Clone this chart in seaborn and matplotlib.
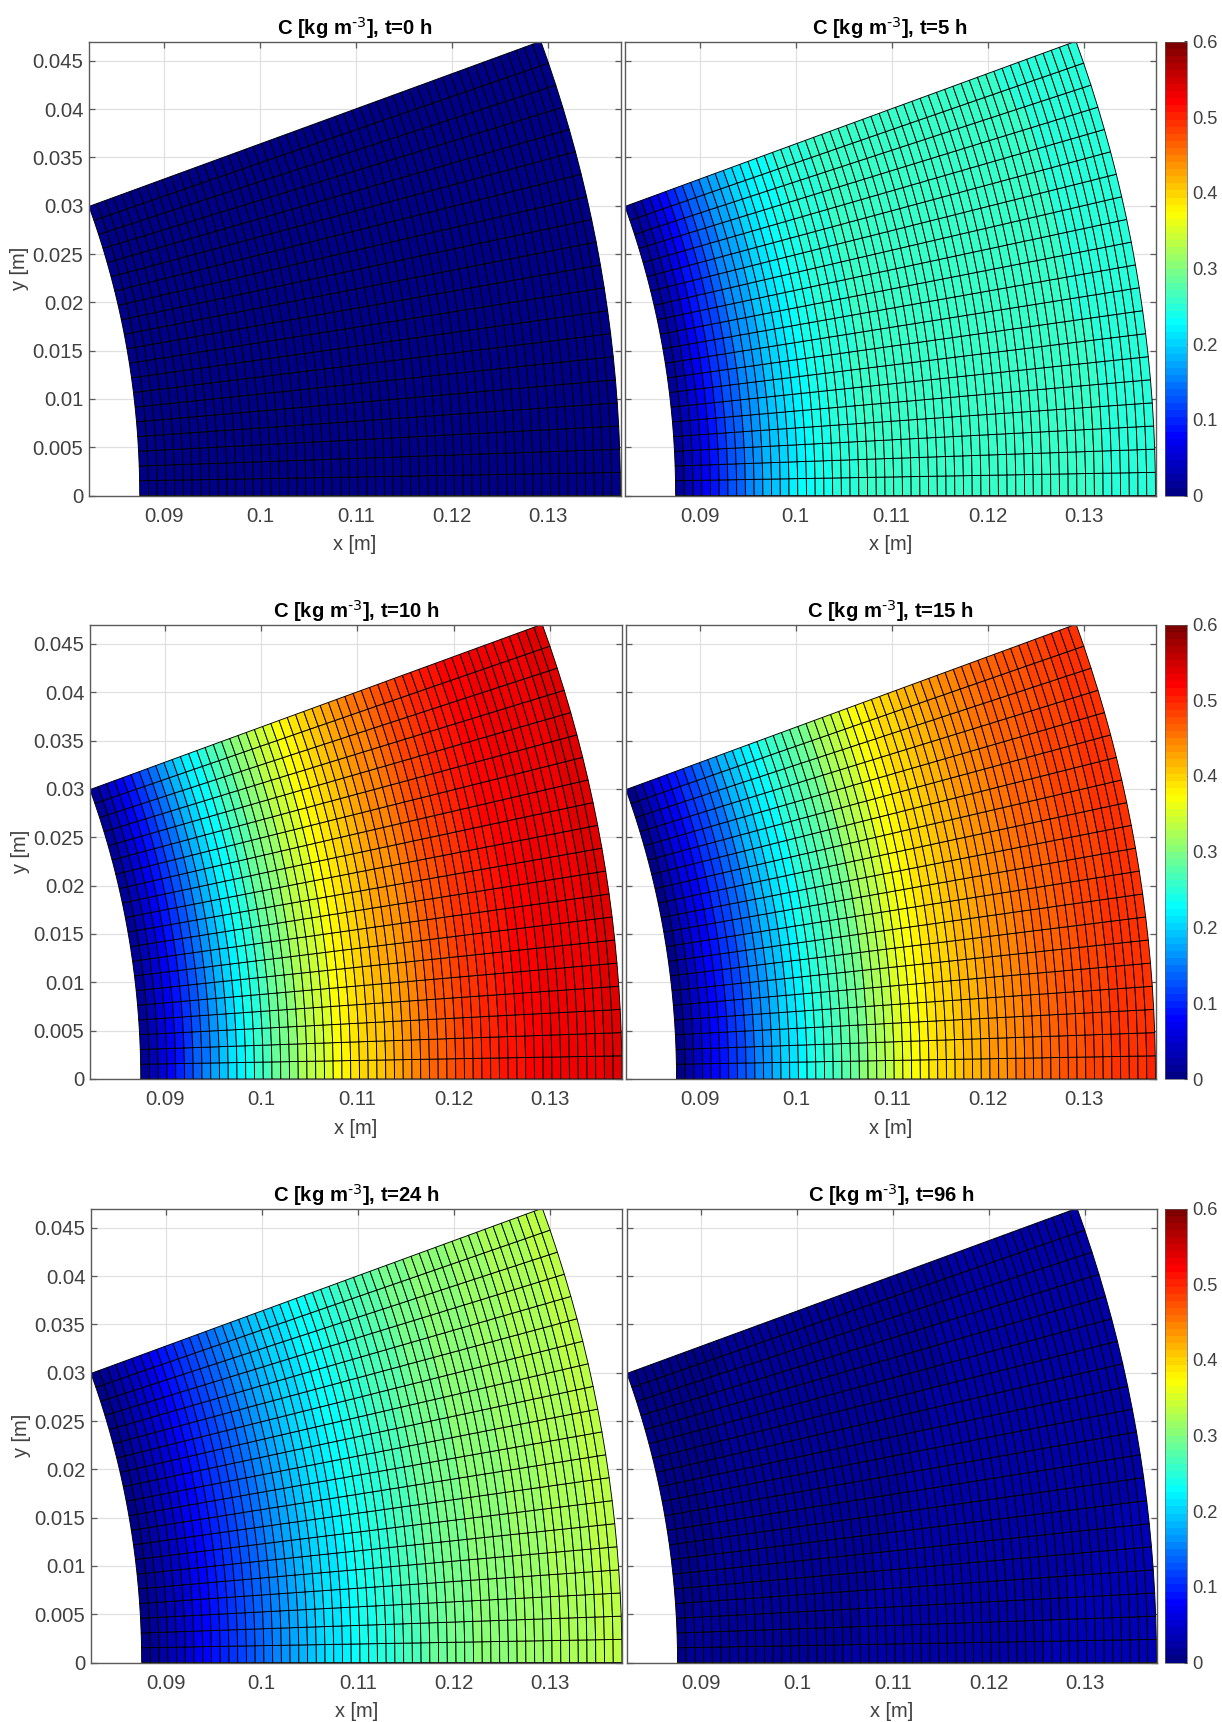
import numpy as np
import matplotlib
matplotlib.use("Agg")
import matplotlib.pyplot as plt
from matplotlib.colors import ListedColormap
import seaborn as sns

TIMES = [0, 5, 10, 15, 24, 96]

# concentration per radial cell: angular row at y=0 and row at the top edge
C_BOTTOM = {
    0: [0.0] * 55,
    5: [.012, .03, .05, .07, .09, .108, .125, .14, .155, .168, .18, .192, .205, .216, .225, .232, .238, .243, .247,
        .25, .252, .254, .256, .258, .259, .26, .261, .262, .262, .262, .262, .262, .262, .262, .262, .262, .261,
        .261, .26, .26, .259, .258, .258, .257, .256, .256, .255, .254, .254, .253, .252, .252, .251, .25, .25],
    10: [.012, .033, .054, .075, .094, .113, .132, .15, .169, .188, .207, .222, .238, .254, .27, .285, .298, .309,
         .32, .331, .343, .355, .367, .376, .385, .394, .403, .412, .421, .43, .438, .446, .454, .461, .468, .475,
         .481, .487, .492, .497, .502, .507, .511, .515, .519, .522, .525, .527, .529, .531, .532, .533, .534, .535,
         .535],
    15: [.008, .027, .045, .062, .077, .092, .107, .122, .137, .152, .168, .183, .198, .212, .225, .236, .247, .258,
         .269, .28, .29, .3, .312, .324, .336, .348, .358, .369, .379, .387, .394, .401, .408, .415, .421, .427,
         .433, .439, .445, .45, .454, .458, .462, .466, .469, .473, .476, .479, .482, .485, .488, .49, .493, .495,
         .497],
    24: [.004, .012, .021, .031, .042, .054, .067, .079, .089, .099, .109, .119, .129, .139, .149, .158, .167, .175,
         .183, .191, .199, .207, .215, .222, .229, .235, .241, .247, .253, .259, .265, .27, .276, .282, .287, .292,
         .296, .299, .301, .303, .305, .307, .309, .311, .313, .315, .317, .319, .321, .323, .325, .327, .329, .331,
         .333],
    96: [.009, .01, .01, .011, .011, .012, .012, .013, .013, .014, .014, .015, .015, .016, .016, .017, .017, .018,
         .018, .019, .019, .02, .02, .021, .021, .022, .022, .022, .023, .023, .024, .024, .025, .025, .025, .026,
         .026, .027, .027, .027, .028, .028, .029, .029, .029, .03, .03, .03, .031, .031, .031, .032, .032, .032,
         .033],
}
C_TOP = {
    0: [0.0] * 55,
    5: [.01, .026, .045, .064, .083, .101, .118, .134, .149, .162, .174, .186, .198, .209, .219, .227, .234, .24,
        .245, .248, .25, .252, .254, .255, .256, .257, .258, .258, .259, .259, .259, .259, .259, .259, .258, .258,
        .258, .257, .257, .256, .256, .255, .255, .254, .254, .253, .253, .252, .252, .251, .251, .25, .25, .25, .25],
    10: [.01, .029, .05, .07, .089, .108, .126, .144, .163, .182, .2, .216, .232, .248, .264, .28, .294, .306, .318,
         .33, .342, .354, .366, .376, .386, .395, .405, .414, .424, .433, .442, .45, .458, .466, .473, .48, .487,
         .493, .499, .504, .509, .514, .518, .52, .523, .526, .528, .53, .531, .532, .533, .534, .535, .536, .536],
    15: [.006, .024, .042, .058, .073, .088, .103, .118, .133, .148, .164, .179, .194, .208, .221, .233, .244, .255,
         .266, .277, .288, .298, .31, .322, .334, .346, .357, .368, .378, .386, .394, .401, .408, .415, .421, .427,
         .433, .439, .444, .449, .453, .457, .461, .465, .468, .472, .475, .478, .481, .484, .487, .489, .491, .493,
         .495],
    24: [.003, .01, .019, .029, .04, .052, .065, .077, .088, .098, .108, .118, .128, .138, .148, .157, .166, .174,
         .182, .19, .198, .206, .214, .221, .228, .234, .24, .246, .252, .258, .264, .27, .275, .281, .286, .291,
         .295, .298, .301, .303, .305, .307, .309, .311, .313, .315, .317, .319, .321, .323, .325, .327, .329, .331,
         .332],
    96: [.006, .006, .007, .007, .007, .008, .008, .008, .009, .009, .009, .01, .01, .01, .011, .011, .011, .012,
         .012, .012, .013, .013, .013, .014, .014, .014, .015, .015, .015, .016, .016, .016, .017, .017, .017, .018,
         .018, .018, .018, .019, .019, .019, .019, .02, .02, .02, .02, .021, .021, .021, .021, .021, .022, .022,
         .022],
}
# how far each of the 20 angular rows sits between the two profiles above
ROW_MIX = [0, .05, .11, .17, .23, .29, .35, .41, .47, .53, .59, .64, .69, .74, .79, .83, .87, .91, .95, 1]

R_INNER = 0.0875
R_OUTER = 0.1375
ANGLE_DEG = 20
N_RADIAL = 55
N_ANGULAR = 20

X_TICKS = [0.09, 0.1, 0.11, 0.12, 0.13]
X_LABELS = ["0.09", "0.1", "0.11", "0.12", "0.13"]
Y_TICKS = [0, 0.005, 0.01, 0.015, 0.02, 0.025, 0.03, 0.035, 0.04, 0.045]
Y_LABELS = ["0", "0.005", "0.01", "0.015", "0.02", "0.025", "0.03", "0.035", "0.04", "0.045"]
CBAR_TICKS = [0, 0.1, 0.2, 0.3, 0.4, 0.5, 0.6]
CBAR_LABELS = ["0", "0.1", "0.2", "0.3", "0.4", "0.5", "0.6"]

# layout in pixels of the 1222x1722 figure
W, H = 1222, 1722
ROW_TOP = [41.5, 624.5, 1208.5]
ROW_BOTTOM = [495.5, 1079, 1662.5]
LEFT_X = [(89, 620.5), (90, 622), (91, 622)]
RIGHT_X = [(625, 1155.5), (626, 1155.5), (627, 1156.5)]
CBAR_X = (1165, 1186.5)

TEXT_GREY = "#404040"
AXIS_GREY = "#5a5a5a"
GRID_GREY = "#e0e0e0"

sns.set_theme(style="whitegrid", rc={
    "axes.edgecolor": AXIS_GREY,
    "axes.linewidth": 1.0,
    "axes.grid": True,
    "grid.color": GRID_GREY,
    "grid.linewidth": 0.9,
    "mathtext.default": "regular",
})
plt.rcParams["font.family"] = ["Liberation Sans", "DejaVu Sans"]

jet_anchors = [(0, 0, .53), (0, 0, 1), (0, .5, 1), (0, 1, 1), (.5, 1, .5), (1, 1, 0), (1, .5, 0), (1, 0, 0), (.5, 0, 0)]
jet_64 = ListedColormap(sns.blend_palette(jet_anchors, 64))

radii = np.linspace(R_INNER, R_OUTER, N_RADIAL + 1)
angles = np.deg2rad(np.linspace(0, ANGLE_DEG, N_ANGULAR + 1))
rr, aa = np.meshgrid(radii, angles)
mesh_x = rr * np.cos(aa)
mesh_y = rr * np.sin(aa)


def add_axes_px(fig, x0, x1, top, bottom):
    return fig.add_axes([x0 / W, 1 - bottom / H, (x1 - x0) / W, (bottom - top) / H])


def draw_panel(ax, hours, show_y):
    bottom = np.array(C_BOTTOM[hours])
    top = np.array(C_TOP[hours])
    mix = np.array(ROW_MIX)[:, None]
    values = (1 - mix) * bottom + mix * top

    quad = ax.pcolormesh(mesh_x, mesh_y, values, cmap=jet_64, vmin=0, vmax=0.6,
                         edgecolors="black", linewidth=0.65, antialiased=True, shading="flat")
    quad.set_snap(False)
    ax.set_xlim(R_INNER * np.cos(np.deg2rad(ANGLE_DEG)), R_OUTER)
    ax.set_ylim(0, 0.047)
    ax.set_axisbelow(True)
    ax.set_xticks(X_TICKS, X_LABELS)
    ax.set_yticks(Y_TICKS, Y_LABELS if show_y else [])
    ax.tick_params(axis="both", direction="in", length=4, width=0.9, color=AXIS_GREY,
                   top=True, right=True, left=True, bottom=True,
                   labelsize=14.6, labelcolor=TEXT_GREY)
    ax.tick_params(axis="x", pad=8)
    ax.tick_params(axis="y", pad=4)
    ax.set_title(f"C [kg m$^{{\\text{{-3}}}}$], t={hours} h", fontsize=14.6, fontweight="bold", color="black", pad=5)
    ax.set_xlabel("x [m]", fontsize=14.4, color=TEXT_GREY, va="top")
    ax.xaxis.set_label_coords(0.5, -0.087)
    if show_y:
        ax.set_ylabel("y [m]", fontsize=14.4, color=TEXT_GREY, va="center")
        ax.yaxis.set_label_coords(-0.13, 0.5)
    return quad


fig = plt.figure(figsize=(W / 100, H / 100), dpi=100, facecolor="white")

for row in range(3):
    top_px, bottom_px = ROW_TOP[row], ROW_BOTTOM[row]
    ax_l = add_axes_px(fig, *LEFT_X[row], top_px, bottom_px)
    draw_panel(ax_l, TIMES[row * 2], True)
    ax_r = add_axes_px(fig, *RIGHT_X[row], top_px, bottom_px)
    quad = draw_panel(ax_r, TIMES[row * 2 + 1], False)

    cax = add_axes_px(fig, *CBAR_X, top_px, bottom_px)
    cbar = fig.colorbar(quad, cax=cax)
    cbar.set_ticks(CBAR_TICKS, labels=CBAR_LABELS)
    cbar.ax.tick_params(direction="in", length=2.5, width=0.8, color="#444444",
                        labelsize=13.2, labelcolor=TEXT_GREY, pad=4)
    cbar.outline.set_edgecolor(AXIS_GREY)
    cbar.outline.set_linewidth(0.5)
    cax.grid(False)

fig.savefig("out.png", dpi=100)
